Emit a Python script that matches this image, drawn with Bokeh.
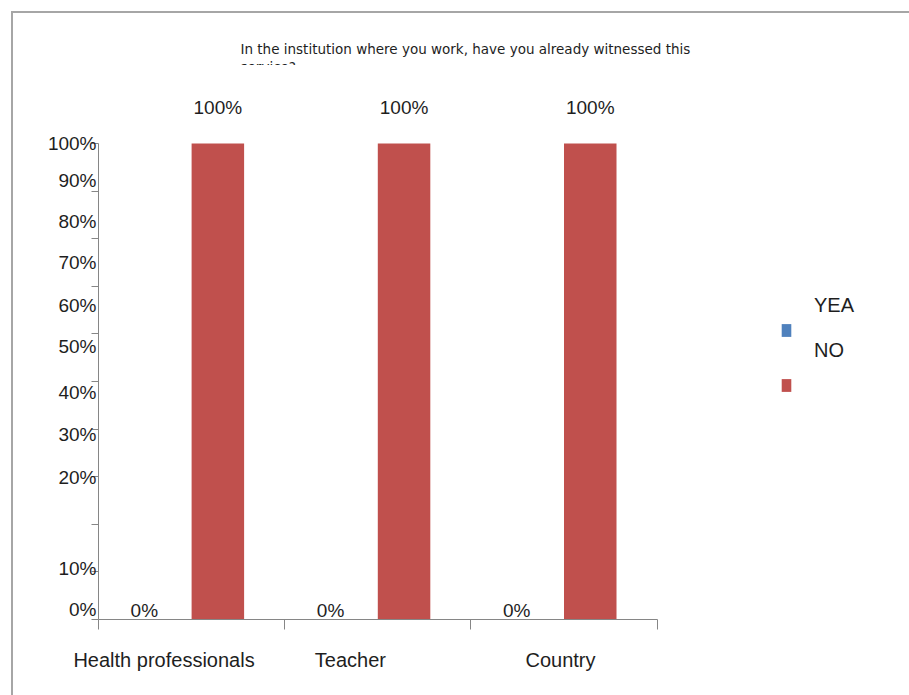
import numpy as np
from bokeh.plotting import figure
from bokeh.models import ColumnDataSource, Range1d, FixedTicker, Legend, LegendItem
from bokeh.layouts import column
from bokeh.transform import dodge
from bokeh.core.properties import value
from bokeh.embed import file_html
from bokeh.resources import INLINE

# ---------------- data ----------------
title_lines = ["In the institution where you work, have you already witnessed this", "service?"]
categories = ["Health professionals", "Teacher", "Country"]
series_names = ["YEA", "NO"]
yea_values = [0.0, 0.0, 0.0]
no_values = [1.0, 1.0, 1.0]
yea_labels = ["0%", "0%", "0%"]
no_labels = ["100%", "100%", "100%"]
y_tick_labels = ["0%", "10%", "20%", "30%", "40%", "50%", "60%", "70%", "80%", "90%", "100%"]

# ---------------- layout / style constants ----------------
# where the source chart printed its (misaligned) tick labels, in axis units
y_label_pos = [0.022, 0.108, 0.298, 0.389, 0.476, 0.574, 0.660, 0.749, 0.836, 0.922, 1.0]
y_tick_pos = [i / 10 for i in range(11)]
x_label_pos = [0.352, 1.353, 2.481]
BLUE = "#4F81BD"
RED = "#C0504D"
AX = "#868686"
TXT = "#1e1e1e"
FONT = "Liberation Sans"
W = 896
LEFT = 85
TITLE_H = 52
LINE_STEP = 18.5

cat_pos = [i + 0.5 for i in range(len(categories))]
src = ColumnDataSource(dict(x=cat_pos, cat=categories, yea=yea_values, no=no_values,
                            yl=yea_labels, nl=no_labels))

# ---------------- title strip (its frame clips the second line like the source) ----------------
t = figure(width=W, height=TITLE_H, x_range=Range1d(LEFT, W), y_range=Range1d(0, TITLE_H),
           x_axis_location=None, y_axis_location=None,
           output_backend="svg", toolbar_location=None, min_border=0)
t.grid.visible = False
t.outline_line_color = None
tsrc = ColumnDataSource(dict(x=[227] * len(title_lines),
                             y=[25 - LINE_STEP * i for i in range(len(title_lines))],
                             text=title_lines))
t.text(x="x", y="y", text="text", source=tsrc, text_align="left", text_baseline="top",
       text_font=value("DejaVu Sans"), text_font_size="13.5px", text_color=TXT)

# ---------------- main chart ----------------
p = figure(width=W, height=630, x_range=Range1d(0, (W - LEFT) / 186.2), y_range=Range1d(0, 1.1639),
           output_backend="svg", toolbar_location=None,
           min_border_left=LEFT, min_border_right=0, min_border_top=0, min_border_bottom=76)
p.grid.visible = False
p.outline_line_color = None

r_yea = p.vbar(x=dodge("x", -0.141), top="yea", width=0.282, source=src,
               fill_color=BLUE, line_color=None)
r_no = p.vbar(x=dodge("x", 0.141), top="no", width=0.282, source=src,
              fill_color=RED, line_color=None)

p.text(x=dodge("x", 0.141), y="no", text="nl", source=src, text_align="center",
       text_baseline="middle", y_offset=-36, text_font=value(FONT),
       text_font_size="19px", text_color=TXT)
p.text(x=dodge("x", -0.141), y="yea", text="yl", source=src, text_align="center",
       text_baseline="middle", x_offset=-21, y_offset=-9, text_font=value(FONT),
       text_font_size="19px", text_color=TXT)

xa = p.xaxis[0]
xa.ticker = FixedTicker(ticks=x_label_pos, minor_ticks=list(range(len(categories) + 1)))
xa.major_label_overrides = {k: c for k, c in zip(x_label_pos, categories)}
xa.bounds = (0, len(categories))
xa.major_tick_line_color = None
xa.major_tick_out = 0
xa.major_tick_in = 0
xa.minor_tick_out = 10
xa.minor_tick_in = 0
xa.minor_tick_line_color = AX
xa.axis_line_color = AX
xa.major_label_standoff = 19
xa.major_label_text_font = FONT
xa.major_label_text_font_size = "20px"
xa.major_label_text_color = TXT

ya = p.yaxis[0]
ya.ticker = FixedTicker(ticks=y_label_pos, minor_ticks=y_tick_pos)
ya.major_label_overrides = {k: s for k, s in zip(y_label_pos, y_tick_labels)}
ya.bounds = (0, 1)
ya.major_tick_line_color = None
ya.major_tick_out = 0
ya.major_tick_in = 0
ya.minor_tick_out = 7
ya.minor_tick_in = 0
ya.minor_tick_line_color = AX
ya.axis_line_color = AX
ya.major_label_standoff = -5
ya.major_label_text_font = FONT
ya.major_label_text_font_size = "19px"
ya.major_label_text_color = TXT

# legend: swatches (drawn where the source draws them)
leg_a = Legend(items=[LegendItem(label=n, renderers=[r]) for n, r in zip(series_names, [r_yea, r_no])],
               location=(682, 226), orientation="vertical",
               glyph_width=12, glyph_height=16, label_height=16, spacing=39,
               label_text_color=None, label_text_font_size="10px",
               padding=0, margin=0, border_line_color=None, background_fill_alpha=0)
# legend: names (offset above the swatches, as in the source)
dummy = ColumnDataSource(dict(x=[], top=[]))
d_rs = [p.vbar(x="x", top="top", width=0.1, source=dummy, fill_alpha=0, line_alpha=0)
        for _ in series_names]
leg_b = Legend(items=[LegendItem(label=n, renderers=[r]) for n, r in zip(series_names, d_rs)],
               location=(715, 257), orientation="vertical",
               glyph_width=1, glyph_height=22, label_height=22, spacing=22, label_standoff=0,
               label_text_font=FONT, label_text_font_size="20px", label_text_color=TXT,
               label_text_baseline="middle",
               padding=0, margin=0, border_line_color=None, background_fill_alpha=0)
p.add_layout(leg_a, "center")
p.add_layout(leg_b, "center")

layout = column(t, p, spacing=0,
                styles={"margin-left": "11px", "margin-top": "11px",
                        "border-left": "2px solid #a6a6a6", "border-top": "2px solid #a6a6a6",
                        "border-right": "none", "border-bottom": "none"})

open("out.html", "w").write(file_html(layout, INLINE))
